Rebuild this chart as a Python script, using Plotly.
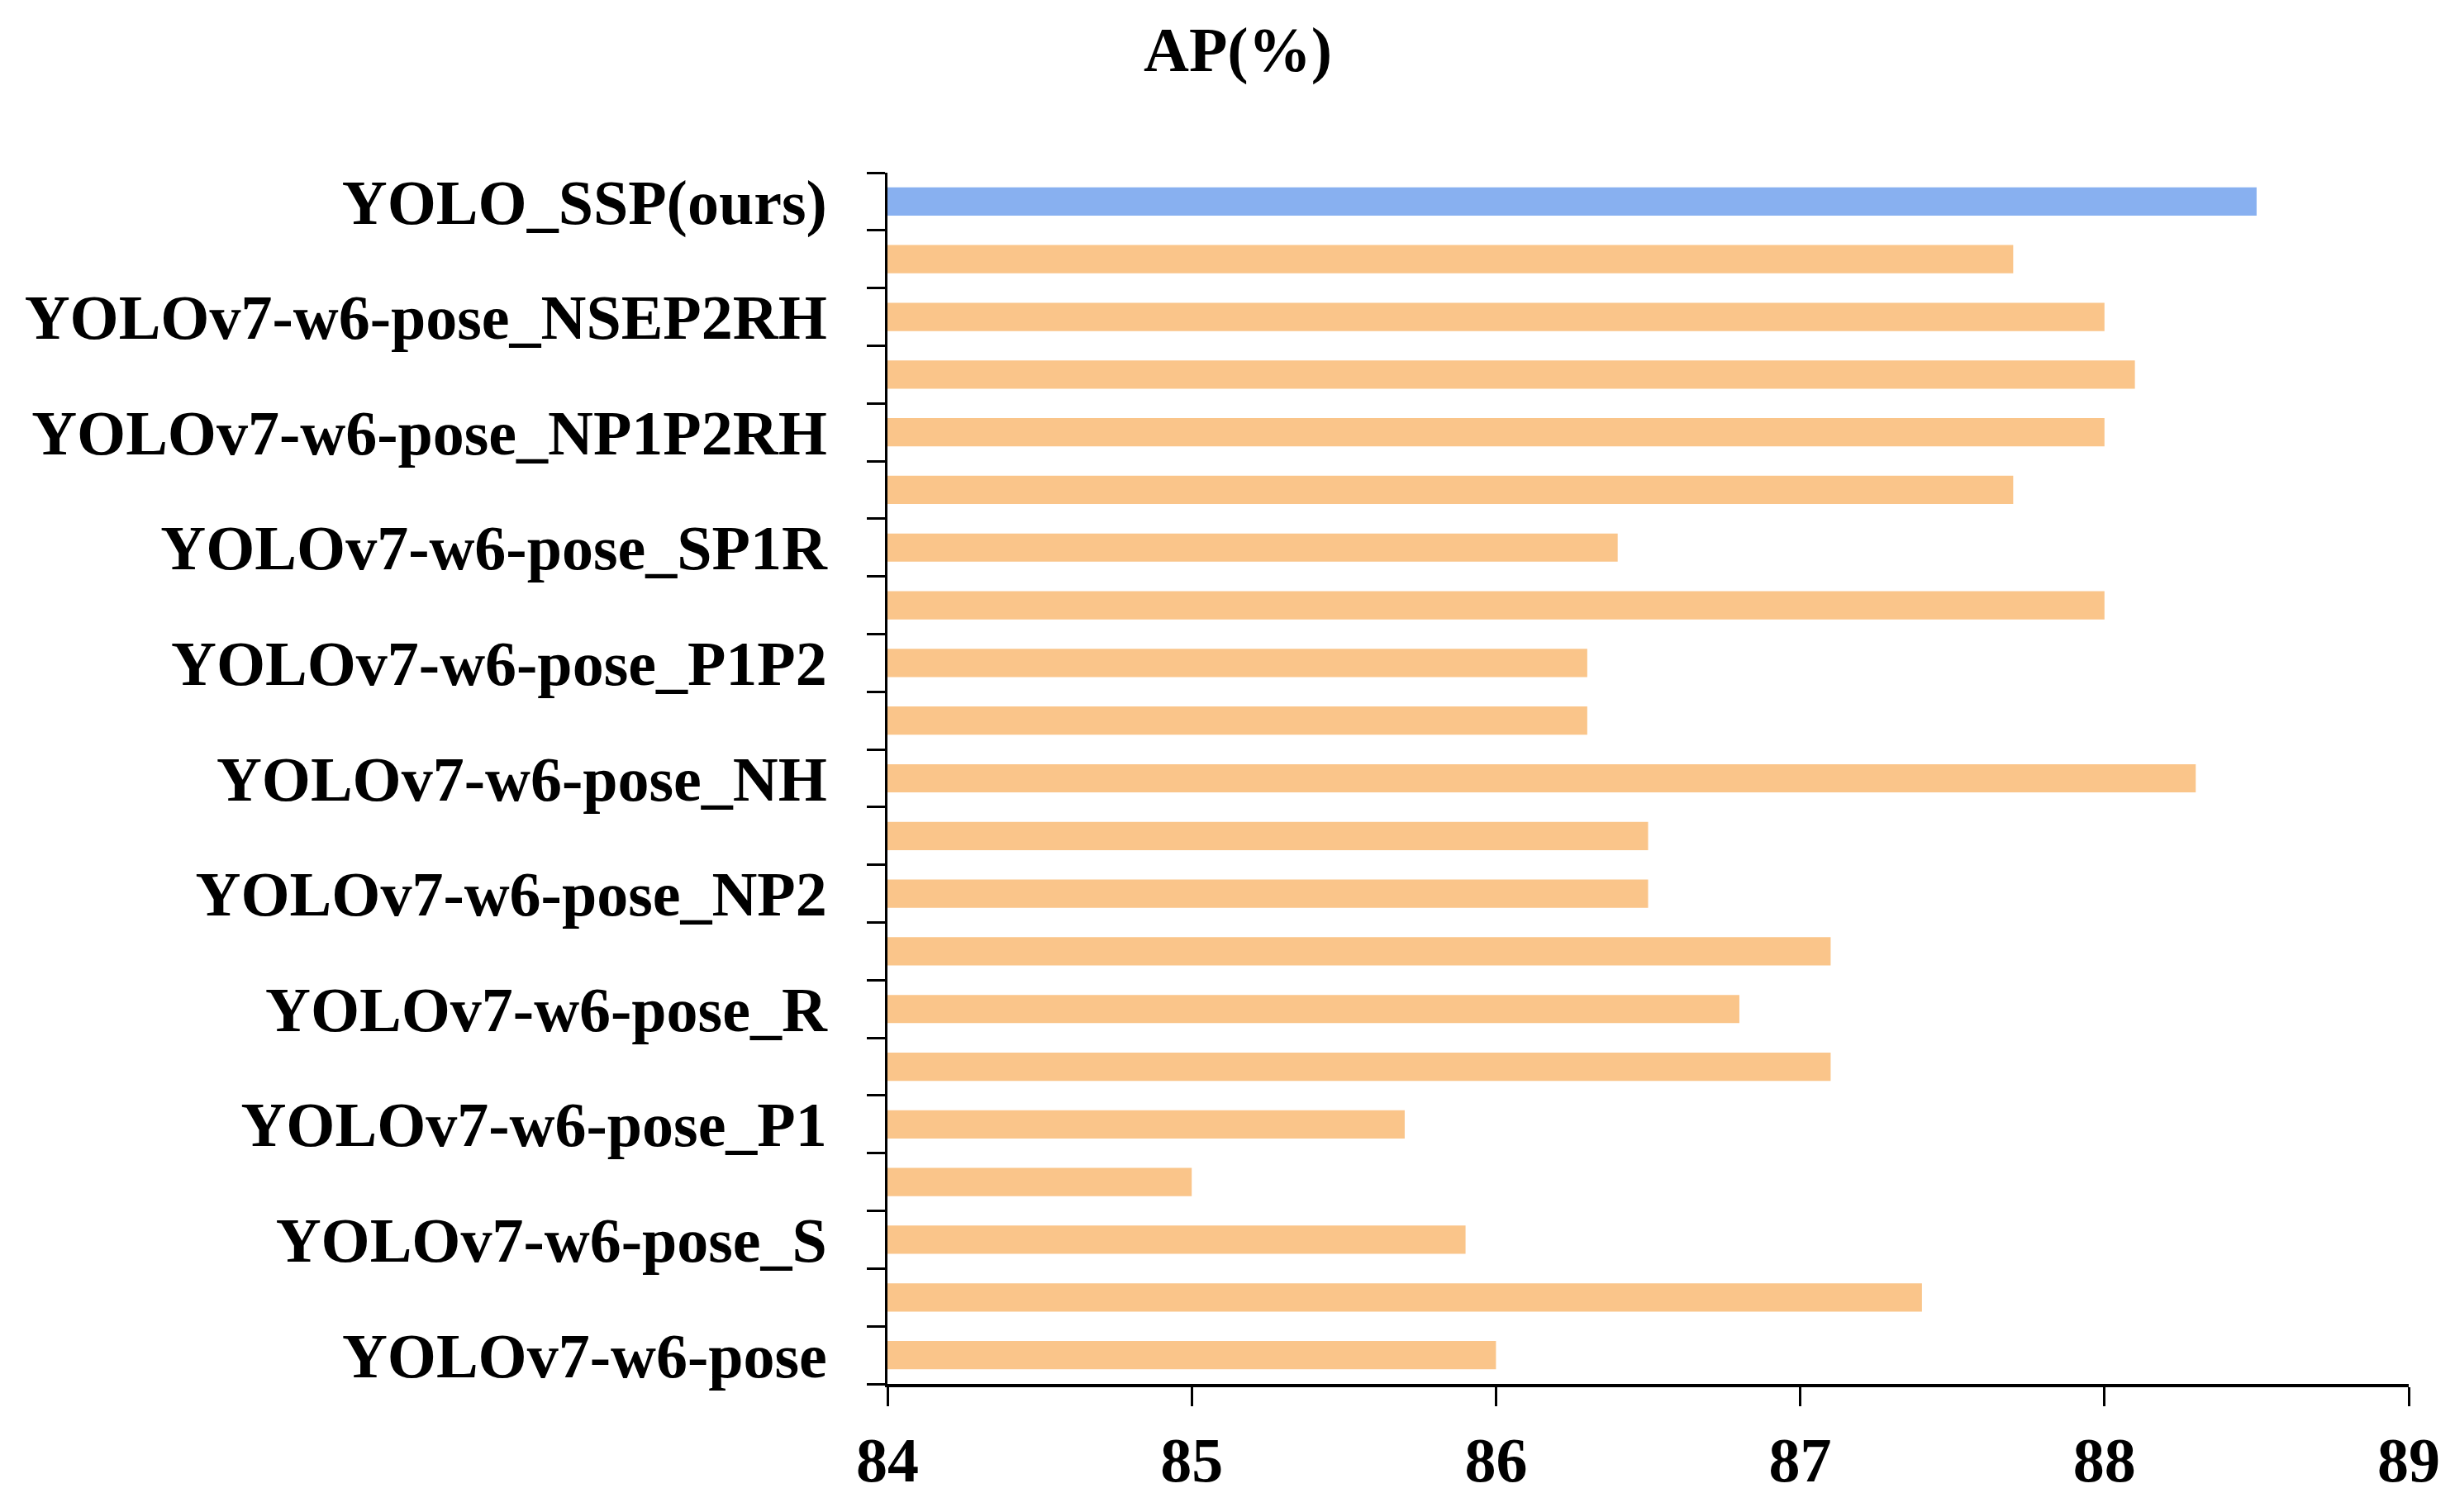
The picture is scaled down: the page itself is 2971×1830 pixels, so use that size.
import plotly.graph_objects as go

# AP values, bottom row first (YOLOv7-w6-pose) up to YOLO_SSP(ours) at the top
ap = [86.0, 87.4, 85.9, 85.0, 85.7, 87.1, 86.8, 87.1, 86.5, 86.5, 88.3,
      86.3, 86.3, 88.0, 86.4, 87.7, 88.0, 88.1, 88.0, 87.7, 88.5]

# only every other row carries a label in the figure
label_rows = [0, 2, 4, 6, 8, 10, 12, 14, 16, 18, 20]
labels = ["YOLOv7-w6-pose", "YOLOv7-w6-pose_S", "YOLOv7-w6-pose_P1",
          "YOLOv7-w6-pose_R", "YOLOv7-w6-pose_NP2", "YOLOv7-w6-pose_NH",
          "YOLOv7-w6-pose_P1P2", "YOLOv7-w6-pose_SP1R",
          "YOLOv7-w6-pose_NP1P2RH", "YOLOv7-w6-pose_NSEP2RH", "YOLO_SSP(ours)"]

x_ticks = [84, 85, 86, 87, 88, 89]
x_start = 84

ORANGE = "#FAC58A"
BLUE = "#88B0F0"
rows = list(range(len(ap)))
colors = [ORANGE] * (len(ap) - 1) + [BLUE]

font = dict(family="Liberation Serif", size=76, color="black", weight="bold")

# bars start at 84, so the drawn length is value - 84
fig = go.Figure(go.Bar(
    x=[v - x_start for v in ap],
    y=rows,
    base=x_start,
    orientation="h",
    marker=dict(color=colors, line=dict(width=0)),
    width=0.49,
))

fig.update_layout(
    width=2971,
    height=1830,
    paper_bgcolor="white",
    plot_bgcolor="white",
    showlegend=False,
    margin=dict(l=1066, r=64, t=201, b=163),
    title=dict(text="AP(%)", font=font, x=1490 / 2971, xanchor="center",
               y=1 - 51 / 1830, yanchor="middle", xref="container"),
)

fig.update_xaxes(
    range=[84, 89],
    tickvals=x_ticks,
    ticks="outside",
    ticklen=23,
    tickwidth=3,
    tickcolor="black",
    showline=True,
    linewidth=4,
    linecolor="black",
    showgrid=False,
    zeroline=False,
    tickfont=font,
)

fig.update_yaxes(
    range=[-0.5, len(ap) - 0.5],
    tickvals=label_rows,
    ticktext=labels,
    ticks="",
    ticklabelstandoff=55,
    minor=dict(tickmode="linear", tick0=-0.5, dtick=1, ticks="outside",
               ticklen=22, tickwidth=3, tickcolor="black", showgrid=False),
    showline=True,
    linewidth=3,
    linecolor="black",
    showgrid=False,
    zeroline=False,
    tickfont=font,
)

fig.write_html("out.html")
